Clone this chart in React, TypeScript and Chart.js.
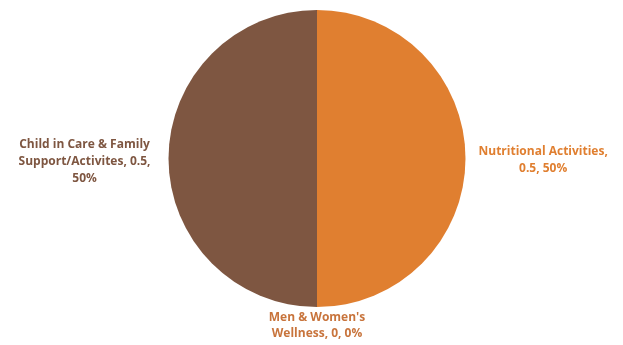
import React, { useEffect, useRef } from "react";
import { Chart, registerables } from "chart.js";

Chart.register(...registerables);

const categories = ["Nutritional Activities", "Men & Women's Wellness", "Child in Care & Family Support/Activites"];
const values = [0.5, 0, 0.5];
const sliceColors = ["#E07F30", "#C8743C", "#7E5641"];
const labelColors = ["#E07F30", "#C8743C", "#7E5641"];

function wrap(ctx: CanvasRenderingContext2D, text: string, maxW: number): string[] {
  const words = text.split(" ");
  const lines: string[] = [];
  let cur = "";
  for (const w of words) {
    const t = cur ? cur + " " + w : w;
    if (ctx.measureText(t).width > maxW && cur) {
      lines.push(cur);
      cur = w;
    } else cur = t;
  }
  if (cur) lines.push(cur);
  return lines;
}

const labelPlugin = {
  id: "outLabels",
  afterDatasetsDraw(chart: any) {
    const ctx: CanvasRenderingContext2D = chart.ctx;
    const meta = chart.getDatasetMeta(0);
    const total = values.reduce((a, b) => a + b, 0);
    ctx.save();
    ctx.font = "bold 12px 'Open Sans', sans-serif";
    ctx.textBaseline = "middle";
    const lh = 17;
    meta.data.forEach((arc: any, i: number) => {
      const { x: cx, y: cy, startAngle, endAngle, outerRadius: r } = arc.getProps(
        ["x", "y", "startAngle", "endAngle", "outerRadius"], true
      );
      const a = (startAngle + endAngle) / 2;
      const pct = Math.round((values[i] / total) * 100);
      const text = `${categories[i]}, ${values[i]}, ${pct}%`;
      const lines = wrap(ctx, text, 150);
      ctx.fillStyle = labelColors[i];
      const cos = Math.cos(a);
      const sin = Math.sin(a);
      const n = lines.length;
      if (Math.abs(cos) > 0.5) {
        const gap = cos < 0 ? 18 : 13;
        const ax = cx + cos * (r + gap);
        const ay = cy + sin * (r + gap) + (cos > 0 ? 2 : 3);
        const widths = lines.map((l) => ctx.measureText(l).width);
        const bw = Math.max(...widths);
        const centerX = cos < 0 ? ax - bw / 2 : ax + bw / 2;
        ctx.textAlign = "center";
        lines.forEach((l, k) => {
          ctx.fillText(l, centerX, ay + (k - (n - 1) / 2) * lh);
        });
      } else {
        const ax = cx + cos * r;
        const ay = cy + sin * (r + 11);
        ctx.textAlign = "center";
        lines.forEach((l, k) => {
          ctx.fillText(l, ax, ay + k * 16);
        });
      }
    });
    ctx.restore();
  },
};

export default function App() {
  const ref = useRef<HTMLCanvasElement>(null);
  useEffect(() => {
    document.body.style.margin = "0";
    const chart = new Chart(ref.current!, {
      type: "pie",
      data: {
        labels: categories,
        datasets: [
          {
            data: values,
            backgroundColor: sliceColors,
            borderWidth: 0,
          },
        ],
      },
      options: {
        responsive: false,
        animation: false,
        layout: { padding: { top: 10, bottom: 38, left: 11, right: 0 } },
        plugins: {
          legend: { display: false },
          tooltip: { enabled: false },
        },
      },
      plugins: [labelPlugin],
    });
    return () => chart.destroy();
  }, []);
  return (
    <div style={{ width: 623, height: 345, background: "#fff" }}>
      <canvas ref={ref} width={623} height={345} />
    </div>
  );
}
